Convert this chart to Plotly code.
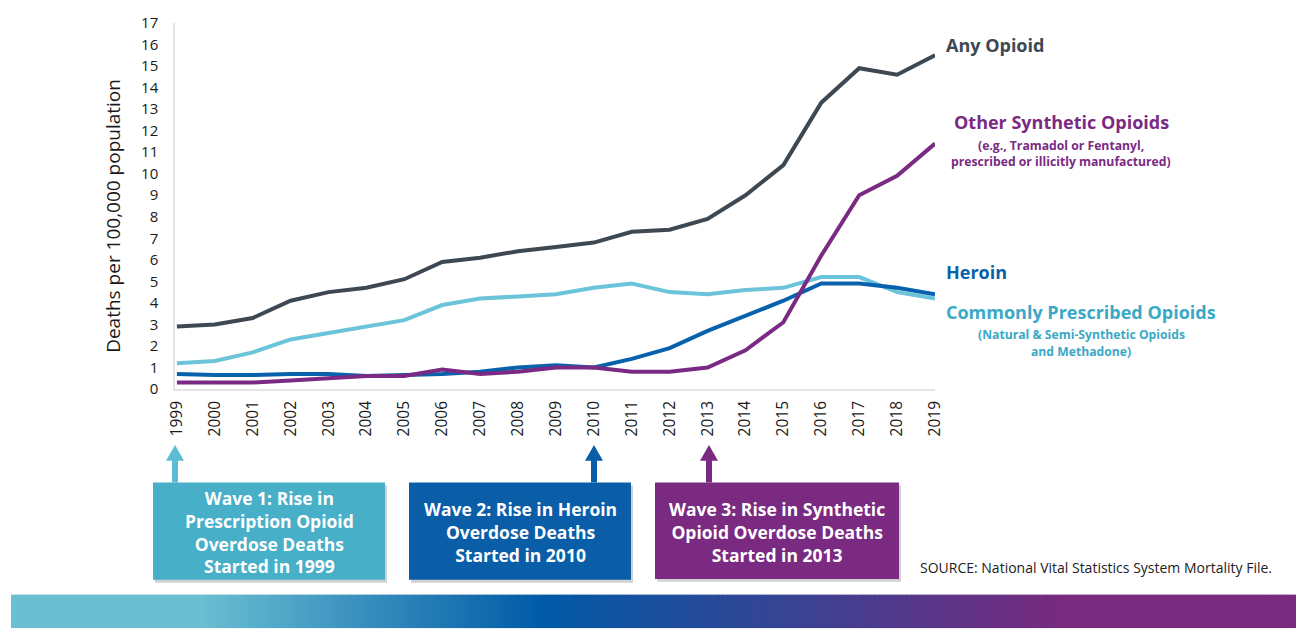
import plotly.graph_objects as go

# ---- data -------------------------------------------------------------
years = list(range(1999, 2020))

any_opioid = [2.9, 3.0, 3.3, 4.1, 4.5, 4.7, 5.1, 5.9, 6.1, 6.4, 6.6,
              6.8, 7.3, 7.4, 7.9, 9.0, 10.4, 13.3, 14.9, 14.6, 15.5]
commonly_prescribed = [1.2, 1.3, 1.7, 2.3, 2.6, 2.9, 3.2, 3.9, 4.2, 4.3, 4.4,
                       4.7, 4.9, 4.5, 4.4, 4.6, 4.7, 5.2, 5.2, 4.5, 4.2]
heroin = [0.7, 0.65, 0.65, 0.7, 0.7, 0.6, 0.65, 0.7, 0.8, 1.0, 1.1,
          1.0, 1.4, 1.9, 2.7, 3.4, 4.1, 4.9, 4.9, 4.7, 4.4]
other_synthetic = [0.3, 0.3, 0.3, 0.4, 0.5, 0.6, 0.6, 0.9, 0.7, 0.8, 1.0,
                   1.0, 0.8, 0.8, 1.0, 1.8, 3.1, 6.2, 9.0, 9.9, 11.4]

y_ticks = list(range(0, 18))

# ---- geometry helpers (page pixels -> paper coords) --------------------
W, H = 1296, 632
PL, PR, PT, PB = 175, 935, 17, 389      # plot area in pixels


def px(x):
    return (x - PL) / (PR - PL)


def py(y):
    return (PB - y) / (PB - PT)


FONT = "Open Sans"
C_ANY = "#3D4852"
C_PRESC = "#6CC4DA"
C_PRESC_TXT = "#3AA9C6"
C_HEROIN = "#0761AD"
C_SYNTH = "#7A2A82"

fig = go.Figure()

series = [
    ("Commonly Prescribed Opioids", commonly_prescribed, C_PRESC),
    ("Heroin", heroin, C_HEROIN),
    ("Other Synthetic Opioids", other_synthetic, C_SYNTH),
    ("Any Opioid", any_opioid, C_ANY),
]
for name, vals, col in series:
    fig.add_trace(go.Scatter(x=years, y=vals, mode="lines", name=name,
                             line=dict(color=col, width=4),
                             hoverinfo="x+y+name"))

shapes = []
annotations = []

# series labels on the right
def label(text, x, y, color, size, anchor="left", bold=True):
    annotations.append(dict(
        text=f"<b>{text}</b>" if bold else text, xref="paper", yref="paper",
        x=px(x), y=py(y), xanchor=anchor, yanchor="middle", showarrow=False,
        font=dict(family=FONT, size=size, color=color)))

label("Any Opioid", 944, 39, C_ANY, 18)
label("Other Synthetic Opioids", 1061, 118, C_SYNTH, 18, anchor="center")
label("(e.g., Tramadol or Fentanyl,", 1061, 141, C_SYNTH, 12.2, anchor="center")
label("prescribed or illicitly manufactured)", 1061, 158, C_SYNTH, 12.2, anchor="center")
label("Heroin", 944, 270, C_HEROIN, 18)
label("Commonly Prescribed Opioids", 1081, 311, C_PRESC_TXT, 18, anchor="center")
label("(Natural &amp; Semi-Synthetic Opioids", 1081, 334, C_PRESC_TXT, 12.2, anchor="center")
label("and Methadone)", 1081, 351, C_PRESC_TXT, 12.2, anchor="center")

# y-axis title
annotations.append(dict(
    text="Deaths per 100,000 population", xref="paper", yref="paper",
    x=px(113), y=py(213), xanchor="center", yanchor="middle",
    textangle=-90, showarrow=False,
    font=dict(family=FONT, size=19, color="#1a1a1a")))

# wave call-out boxes with arrows
waves = [
    dict(x0=153, x1=385, y0=484, y1=583, ax=175, fill="#47AFC8", arrow="#5CBCD4",
         lines=["Wave 1: Rise in", "Prescription Opioid", "Overdose Deaths", "Started in 1999"]),
    dict(x0=409, x1=631, y0=484, y1=583, ax=594, fill="#0A5EA8", arrow="#0A5EA8",
         lines=["Wave 2: Rise in Heroin", "Overdose Deaths", "Started in 2010"]),
    dict(x0=655, x1=899, y0=484, y1=582, ax=709, fill="#7A2A80", arrow="#7A2A80",
         lines=["Wave 3: Rise in Synthetic", "Opioid Overdose Deaths", "Started in 2013"]),
]
for w in waves:
    # soft drop shadow
    shapes.append(dict(type="rect", xref="paper", yref="paper",
                       x0=px(w["x0"] + 2), x1=px(w["x1"] + 2),
                       y0=py(w["y0"] + 3), y1=py(w["y1"] + 3),
                       fillcolor="rgba(0,0,0,0.18)", line=dict(width=0), layer="above"))
    shapes.append(dict(type="rect", xref="paper", yref="paper",
                       x0=px(w["x0"]), x1=px(w["x1"]), y0=py(w["y0"]), y1=py(w["y1"]),
                       fillcolor=w["fill"], line=dict(width=0), layer="above"))
    ax = w["ax"]
    tip, neck, base = 446, 462, w["y0"]
    pts = [(ax, tip), (ax + 9, neck), (ax + 3, neck), (ax + 3, base),
           (ax - 3, base), (ax - 3, neck), (ax - 9, neck)]
    path = "M " + " L ".join(f"{px(a):.5f},{py(b):.5f}" for a, b in pts) + " Z"
    shapes.append(dict(type="path", xref="paper", yref="paper", path=path,
                       fillcolor=w["arrow"], line=dict(width=0), layer="above"))
    cy = (w["y0"] + w["y1"]) / 2 + 1
    annotations.append(dict(
        text="<br>".join(f"<b>{t}</b>" for t in w["lines"]),
        xref="paper", yref="paper", x=px((w["x0"] + w["x1"]) / 2), y=py(cy),
        xanchor="center", yanchor="middle", align="center", showarrow=False,
        font=dict(family=FONT, size=17.5, color="white")))

# source note
annotations.append(dict(
    text="SOURCE: National Vital Statistics System Mortality File.",
    xref="paper", yref="paper", x=px(918), y=py(570), xanchor="left",
    yanchor="middle", showarrow=False,
    font=dict(family=FONT, size=14, color="#222222")))

# gradient footer band built from thin slices
stops = [(11, (0x6A, 0xBF, 0xD2)), (200, (0x6A, 0xBF, 0xD2)),
         (545, (0x00, 0x59, 0xA6)), (1061, (0x77, 0x2A, 0x7E)),
         (1296, (0x77, 0x2A, 0x7E))]


def band_color(x):
    for (xa, ca), (xb, cb) in zip(stops[:-1], stops[1:]):
        if xa <= x <= xb:
            t = (x - xa) / (xb - xa) if xb > xa else 0
            return "rgb({},{},{})".format(*[round(a + (b - a) * t) for a, b in zip(ca, cb)])
    return "rgb({},{},{})".format(*stops[-1][1])


step = 4
x = 11
while x < W:
    x1 = min(x + step + 0.6, W)
    shapes.append(dict(type="rect", xref="paper", yref="paper",
                       x0=px(x), x1=px(x1), y0=py(598), y1=py(H),
                       fillcolor=band_color(x + step / 2), line=dict(width=0),
                       layer="above"))
    x += step

fig.update_layout(
    width=W, height=H,
    margin=dict(l=PL, r=W - PR, t=PT, b=H - PB),
    paper_bgcolor="white", plot_bgcolor="white",
    showlegend=False,
    shapes=shapes, annotations=annotations,
    font=dict(family=FONT, color="#1a1a1a"),
    xaxis=dict(range=[1998.95, 2019], tickmode="array", tickvals=years,
               ticktext=[str(y) for y in years], tickangle=-90,
               tickfont=dict(family=FONT, size=15.5, color="#1a1a1a"),
               showgrid=False, zeroline=False, showline=True,
               linecolor="#E4E4E4", linewidth=1.5, ticks="", ticklabelstandoff=4,
               fixedrange=True),
    yaxis=dict(range=[0, 17], tickmode="array", tickvals=y_ticks,
               tickfont=dict(family=FONT, size=15, color="#1a1a1a"),
               showgrid=False, zeroline=False, showline=True,
               linecolor="#E4E4E4", linewidth=1.5, ticks="", ticklabelstandoff=12,
               fixedrange=True),
)

fig.write_html("out.html")
